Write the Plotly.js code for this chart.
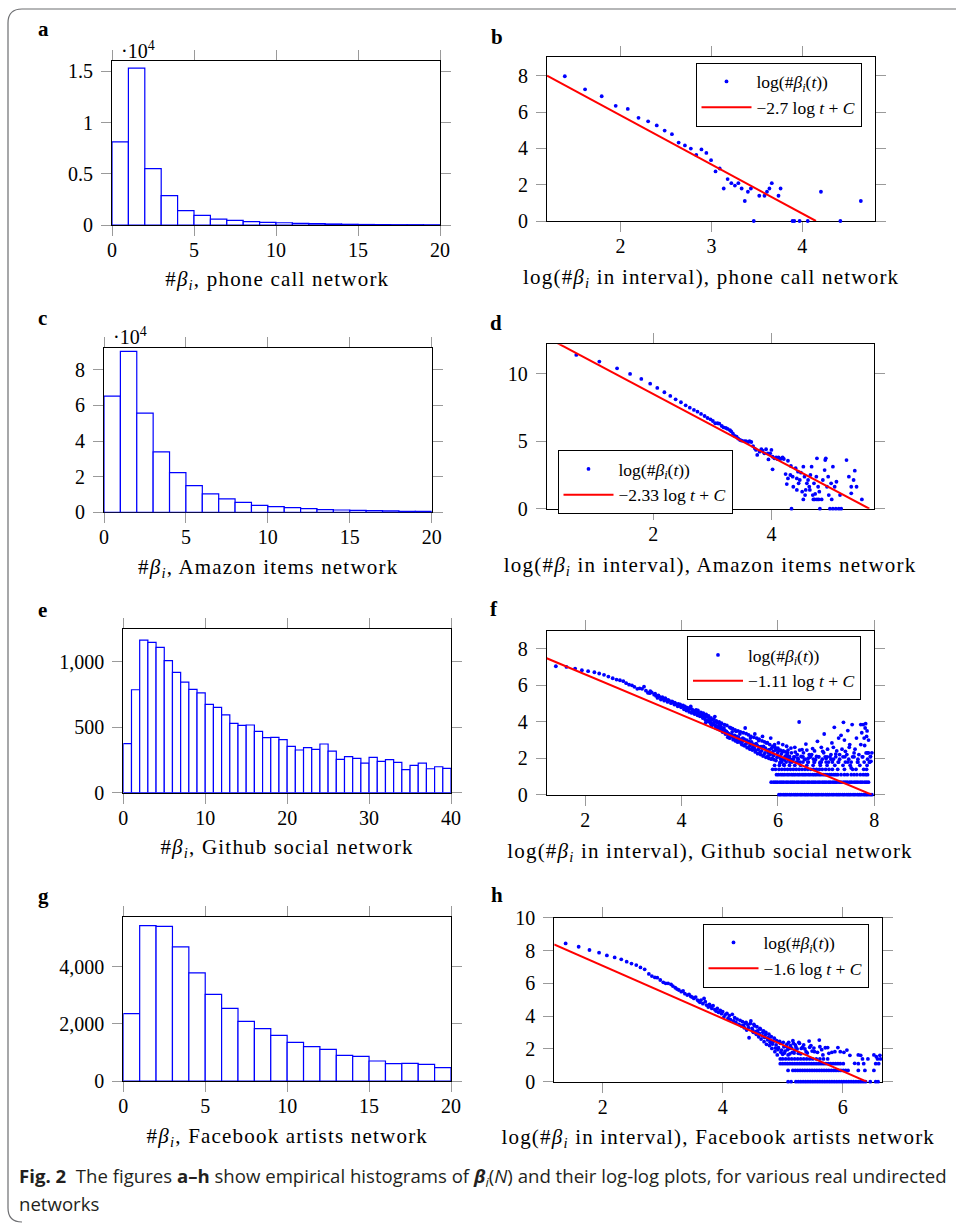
<!DOCTYPE html>
<html><head><meta charset="utf-8">
<script src="https://cdn.plot.ly/plotly-3.0.1.min.js"></script>
<style>html,body{margin:0;padding:0;background:#fff}#chart{width:956px;height:1223px}</style>
</head><body><div id="chart"></div>
<script>
// ---------------- DATA ----------------
const bins20 = [0,1,2,3,4,5,6,7,8,9,10,11,12,13,14,15,16,17,18,19];
const bins40 = [0,1,2,3,4,5,6,7,8,9,10,11,12,13,14,15,16,17,18,19,20,21,22,23,24,25,26,27,28,29,30,31,32,33,34,35,36,37,38,39];

// (a) phone call network, counts in units of 10^4
const phoneCounts = [0.81,1.53,0.55,0.286,0.14,0.094,0.058,0.045,0.032,0.026,0.022,0.016,0.013,0.010,0.007,0.005,0.004,0.003,0.003,0.002];
// (c) Amazon items network, counts in units of 10^4
const amazonCounts = [6.52,9.03,5.56,3.39,2.23,1.50,1.03,0.75,0.56,0.39,0.32,0.26,0.21,0.15,0.13,0.11,0.09,0.075,0.06,0.05];
// (e) Github social network
const githubCounts = [374,786,1165,1148,1109,1008,919,845,789,763,674,651,595,529,514,517,468,420,422,405,354,326,344,331,372,318,254,275,262,226,270,239,252,232,176,209,226,183,198,186];
// (g) Facebook artists network
const facebookCounts = [2356,5434,5411,4688,3778,3032,2542,2087,1831,1598,1353,1201,1108,898,863,700,606,618,583,466];

// (b) log-log, phone call network
const phoneLogT = [1.386,1.609,1.792,1.946,2.079,2.197,2.303,2.398,2.485,2.565,2.639,2.708,2.773,2.833,2.890,2.944,2.996,3.045,3.091,3.135,3.178,3.219,3.258,3.296,3.332,3.367,3.401,3.434,3.466,3.526,3.584,3.611,3.638,3.664,3.738,3.761,3.892,3.912,3.970,4.060,4.205,4.419,4.644];
const phoneLogN = [7.97,7.25,6.87,6.34,6.17,5.68,5.49,5.26,4.98,4.78,4.32,4.16,3.99,3.64,3.94,3.75,3.35,2.73,2.89,1.79,2.31,2.08,1.95,2.08,1.79,1.10,1.61,1.79,0,1.39,1.39,1.61,1.79,2.08,1.39,1.79,0,0,0,0,1.61,0,1.10];
const phoneFitX = [1.19,4.15];
const phoneFitY = [8.0,0.0];

// (d) log-log, Amazon items network
const amazonLogT = [0.70,1.09,1.39,1.61,1.80,1.95,2.07,2.19,2.29,2.38,2.47,2.55,2.62,2.69,2.75,2.81,2.87,2.92,2.97,3.01,3.05,3.09,3.12,3.16,3.19,3.23,3.26,3.30,3.32,3.35,3.38,3.41,3.44,3.47,3.50,3.54,3.57,3.61,3.63,3.66,3.69,3.72,3.74,3.76,3.80,3.83,3.85,3.88,3.91,3.94,3.95,3.98,4.00,4.02,4.05,4.08,4.10,4.12,4.15,4.17,4.19,4.21,4.02,4.28,4.24,4.26,4.28,4.32,4.33,4.34,4.36,4.37,4.41,4.43,4.45,4.46,4.48,4.50,4.52,4.54,4.56,4.57,4.60,4.62,4.64,4.66,4.68,4.70,4.72,4.73,4.76,4.77,4.79,4.81,4.82,4.85,4.87,4.90,4.91,4.92,4.94,4.96,4.97,4.99,5.01,5.04,5.04,5.07,5.09,5.10,5.14,5.16,5.18,5.27,5.31,5.35,5.35,5.39,5.41,5.44,5.53,4.43,4.54,4.71,4.77,4.80,5.02,4.74,4.65,4.58];
const amazonLogN = [11.41,10.92,10.42,10.00,9.63,9.28,8.96,8.64,8.37,8.12,7.90,7.67,7.50,7.33,7.20,7.03,6.88,6.73,6.63,6.51,6.34,6.34,6.31,6.14,6.04,5.99,5.92,5.82,5.74,5.57,5.40,5.35,5.20,5.10,5.05,5.02,5.02,4.95,5.02,4.95,4.65,4.46,4.36,3.99,4.23,4.41,4.31,4.11,4.41,4.11,3.66,4.11,4.36,3.86,3.74,3.81,3.69,3.81,3.69,3.74,3.81,3.69,2.92,3.56,2.57,1.83,2.25,2.50,3.17,0,2.38,1.63,3.00,2.25,2.75,1.88,2.13,2.67,1.26,3.12,2.38,1.01,1.88,2.13,1.63,2.50,3.12,1.01,1.88,0.69,2.38,3.74,1.63,1.26,0,0.69,2.13,2.87,3.61,3.74,1.63,2.38,1.01,0,1.88,3.12,0,1.63,0,2.00,0,1.01,0,3.61,2.38,1.63,1.14,2.13,2.82,1.63,0.69,1.39,0.69,0.69,0.69,0.69,0.69,1.10,1.39,1.39];
const amazonFitX = [0.2,5.656];
const amazonFitY = [12.71,0.0];

// (f) log-log, Github social network
const githubLogT = [1.39,1.61,1.79,1.93,2.06,2.19,2.29,2.39,2.48,2.57,2.65,2.72,2.79,2.85,2.91,2.97,3.02,3.08,3.13,3.18,3.22,3.26,3.30,3.34,3.38,3.43,3.47,3.50,3.54,3.57,3.61,3.64,3.67,3.71,3.74,3.78,3.81,3.85,3.88,3.92,3.95,3.99,4.02,4.05,4.08,4.10,4.13,4.16,4.19,4.21,4.24,4.27,4.30,4.33,4.35,4.38,4.41,4.44,4.46,4.49,4.52,4.55,4.57,4.60,4.63,4.66,4.69,4.71,4.74,4.77,4.80,4.82,4.85,4.88,4.91,4.93,4.96,4.99,5.02,5.04,5.07,5.10,5.13,5.16,5.18,5.21,5.24,5.27,5.29,5.32,5.35,5.38,5.40,5.43,5.46,5.49,5.52,5.54,5.57,5.60,5.63,5.65,5.68,5.71,5.74,5.76,5.79,5.82,5.85,5.88,5.90,5.93,5.96,5.99,6.01,6.04,6.07,6.10,6.12,6.15,6.18,6.22,6.27,6.30,6.36,6.41,6.44,6.50,6.55,6.58,6.65,6.72,6.78,6.82,6.87,6.93,6.96,7.00,7.05,7.12,7.17,7.20,7.26,7.31,7.36,7.40,7.45,7.49,7.52,7.54,7.58,7.63,7.72,7.72,7.77,7.79,7.81,7.83,7.86,7.93,
  4.50,4.58,4.62,4.68,4.75,4.79,4.84,4.90,4.95,5.00,5.05,5.08,5.12,5.15,5.20,5.23,5.26,5.30,5.33,5.37,5.42,5.45,5.48,5.51,5.55,5.59,5.62,5.66,5.70,5.73,5.77,5.80,5.84,5.87,5.91,5.95,5.98,6.02,6.06,6.09,6.14,6.20,6.25,6.33,6.38,6.46,6.52,6.62,6.68,6.75,6.85,6.90,6.98,7.08,7.15,7.25,7.35,7.45,7.55,7.65,7.75,7.82,7.84,7.88,7.90,
  4.31,4.34,4.37,4.40,4.43,4.45,4.48,4.51,4.53,4.56,4.59,4.61,4.64,4.67,4.70,4.72,4.76,4.78,4.81,4.83,4.86,4.89,4.92,4.94,4.97,5.00,5.03,5.06,5.09,5.11,5.14,5.17,5.19,5.22,5.25,5.28,5.31,5.34,5.36,5.39,5.42,5.44,5.47,5.50,5.53,5.56,5.58,5.61,5.64,5.67,5.69,5.72,5.75,5.78,5.81,5.83,5.86,5.89,5.92,5.94,5.97,6.00,6.03,6.05,6.08,6.11,6.13,6.16,6.19,6.21,6.24,6.28,6.32,6.35,6.40,6.45,6.48,6.53,6.60,6.63,6.70,6.76,6.80,6.90,6.95,7.03,7.10,7.15,7.22,7.28,7.33,7.38,7.43,7.48,7.60,7.68,7.74,7.80,7.85,7.88,7.92,7.95,
  3.35,3.45,3.52,3.60,3.66,3.72,3.80,3.86,3.93,3.97,4.03,4.07,4.12,4.17,4.22,4.26,4.29];
const githubLogN = [7.05,7.01,6.92,6.83,6.78,6.72,6.65,6.58,6.48,6.39,6.32,6.28,6.23,6.12,6.04,6.00,5.92,5.81,5.84,5.81,5.93,5.71,5.59,5.57,5.62,5.49,5.42,5.31,5.37,5.22,5.27,5.16,5.24,5.09,5.16,5.02,5.09,4.95,4.98,4.85,4.91,4.80,4.84,4.69,4.76,4.62,4.69,4.54,4.84,4.49,4.58,4.43,4.65,4.36,4.49,4.30,4.43,4.21,4.36,4.12,4.29,4.03,4.18,3.92,4.10,3.85,4.29,3.66,3.94,3.77,3.55,3.74,3.44,3.66,3.33,3.48,3.15,3.33,3.66,3.30,3.02,3.26,3.48,2.89,3.15,3.33,2.82,3.11,2.71,3.66,3.00,2.60,2.93,3.11,2.53,2.78,3.33,2.42,2.71,2.97,2.34,2.64,3.20,2.20,2.56,2.84,2.11,2.47,3.11,2.01,2.38,2.75,1.87,2.29,2.84,1.74,2.23,2.75,1.65,2.11,2.66,1.92,2.56,1.87,2.34,2.01,3.99,2.47,1.92,2.78,2.20,2.53,1.92,2.93,1.74,2.38,3.33,1.98,1.79,2.84,3.70,2.23,3.11,3.26,3.97,2.38,3.52,2.75,1.47,3.85,2.29,3.11,3.85,2.75,3.85,3.11,3.66,2.29,2.29,1.83,
  3.95,4.05,3.78,3.98,3.62,3.90,3.58,3.52,3.40,3.10,3.45,3.15,2.95,3.20,3.05,3.00,2.92,3.05,2.78,2.85,2.70,2.90,2.62,2.55,2.80,2.48,2.62,2.40,2.65,2.30,2.45,2.30,2.20,2.55,2.15,2.45,2.05,2.40,1.95,2.35,1.90,2.30,1.79,2.08,1.79,1.79,2.08,1.79,2.08,1.79,2.08,1.79,2.08,2.08,1.95,1.79,2.08,1.79,2.08,1.79,2.08,3.90,3.20,2.30,1.79,
  4.55,4.62,4.40,4.52,4.33,4.48,4.25,4.40,4.08,4.33,4.00,4.22,3.88,4.15,3.80,4.05,3.70,4.00,3.60,3.92,3.50,3.85,3.38,3.80,3.25,3.70,3.20,3.62,3.05,3.55,2.98,3.50,2.90,3.45,2.75,3.40,2.68,3.35,2.58,3.28,2.50,3.20,2.45,3.15,2.35,3.10,2.25,3.05,2.20,2.95,2.12,2.90,2.05,2.85,2.00,2.75,1.95,2.65,1.92,2.60,2.50,2.55,2.10,2.45,1.80,2.40,1.95,2.35,2.20,2.45,2.10,2.30,1.95,2.60,2.20,2.45,2.10,2.30,2.45,2.00,2.20,2.40,2.10,2.60,2.30,2.50,2.20,2.60,2.40,2.20,2.50,3.00,2.20,2.60,2.50,2.20,3.40,2.70,3.50,3.00,2.10,2.30,
  5.68,5.55,5.45,5.35,5.30,5.20,5.12,5.05,4.98,4.95,4.90,4.85,4.78,4.72,4.68,4.60,4.52];
// rows of repeated small counts (log 1 ... log 8)
const githubRowLevels = [0,0.69,1.10,1.39,1.61,1.79,1.95,2.08];
const githubRowT = [
  [6.02,6.06,6.11,6.15,6.19,6.24,6.28,6.33,6.37,6.41,6.46,6.50,6.55,6.59,6.63,6.68,6.72,6.77,6.81,6.85,6.90,6.94,6.99,7.03,7.07,7.12,7.16,7.21,7.25,7.29,7.34,7.38,7.43,7.47,7.51,7.56,7.60,7.65,7.69,7.73,7.78,7.82,7.86,7.91,7.95],
  [5.86,5.91,5.95,5.99,6.04,6.08,6.12,6.17,6.21,6.26,6.30,6.34,6.39,6.43,6.48,6.52,6.56,6.61,6.65,6.70,6.74,6.78,6.83,6.87,6.92,6.96,7.00,7.05,7.09,7.14,7.18,7.22,7.27,7.31,7.36,7.40,7.44,7.49,7.53,7.58,7.62,7.66,7.71,7.75,7.80,7.84,7.88],
  [5.97,6.01,6.06,6.10,6.14,6.19,6.23,6.28,6.32,6.36,6.41,6.45,6.50,6.54,6.58,6.63,6.67,6.72,6.76,6.80,6.85,6.89,6.94,6.98,7.02,7.07,7.11,7.16,7.20,7.24,7.31,7.38,7.44,7.52,7.58,7.64,7.71,7.77,7.82,7.86],
  [5.89,5.95,6.02,6.08,6.14,6.20,6.26,6.32,6.38,6.44,6.50,6.56,6.62,6.68,6.74,6.80,6.86,6.92,6.99,7.06,7.13,7.24,7.38,7.55,7.62,7.78,7.84],
  [5.93,6.03,6.13,6.24,6.35,6.47,6.60,6.73,6.88,7.02,7.18,7.35,7.50,7.70,7.85],
  [6.05,6.17,6.29,6.40,6.52,6.63,6.76,6.88,7.00,7.13,7.26,7.40,7.52,7.66,7.79,7.90],
  [6.10,6.26,6.42,6.57,6.74,6.92,7.10,7.28,7.47,7.66,7.86],
  [6.02,6.20,6.35,6.50,6.67,6.84,7.02,7.20,7.39,7.58,7.76,7.92]
];
const githubFitX = [1.2,7.945];
const githubFitY = [7.49,0.0];

// (h) log-log, Facebook artists network
const facebookLogT = [1.383,1.60,1.78,1.94,2.07,2.20,2.31,2.40,2.48,2.56,2.63,2.70,2.77,2.82,2.87,2.91,2.96,3.01,3.05,3.09,3.14,3.17,3.21,3.24,3.27,3.31,3.34,3.37,3.41,3.44,3.47,3.49,3.52,3.55,3.58,3.60,3.62,3.64,3.67,3.69,3.71,3.73,3.76,3.78,3.80,3.82,3.84,3.87,3.89,3.91,3.93,3.96,3.98,4.00,4.02,4.04,4.07,4.09,4.11,4.13,4.16,4.18,4.20,4.22,4.24,4.27,4.29,4.31,4.33,4.36,4.38,4.40,4.42,4.44,4.47,4.49,4.51,4.53,4.56,4.58,4.60,4.62,4.64,4.67,4.69,4.71,4.73,4.76,4.78,4.80,4.82,4.84,4.87,4.89,4.91,4.93,4.96,4.98,5.00,5.02,5.04,5.07,5.09,5.11,5.13,5.16,5.18,5.20,5.22,5.26,5.28,5.31,5.35,5.39,5.44,5.47,5.49,5.53,5.61,5.62,5.67,5.71,5.77,5.87,5.96,6.07,6.20,6.26,6.52,6.56,
  4.35,4.39,4.43,4.46,4.50,4.52,4.55,4.57,4.61,4.63,4.66,4.68,4.70,4.72,4.75,4.77,4.79,4.81,4.83,4.86,4.88,4.90,4.92,4.95,4.97,5.01,5.03,5.06,5.08,5.10,5.12,5.15,5.17,5.19,5.21,5.24,5.27,5.30,5.33,5.37,5.41,5.45,5.52,5.58,5.65,5.75,5.82,5.92,6.02,6.12,6.30,6.62];
const facebookLogN = [8.43,8.23,8.03,7.87,7.70,7.58,7.46,7.32,7.20,7.11,6.97,6.85,6.57,6.44,6.36,6.34,6.20,6.06,6.00,6.00,5.93,5.83,5.73,5.65,5.59,5.49,5.53,5.37,5.28,5.33,5.20,5.16,5.08,5.16,4.98,4.92,4.84,4.98,4.76,5.08,4.88,4.67,4.55,4.72,4.59,4.47,4.63,4.39,4.31,4.47,4.23,4.35,4.15,4.27,3.94,4.07,4.17,3.86,4.02,3.78,4.11,3.70,3.90,3.62,3.82,3.50,3.74,3.41,3.66,3.29,3.58,3.15,3.46,2.68,3.70,3.25,3.01,3.41,2.89,3.09,2.74,3.25,2.60,3.01,2.44,2.85,2.28,2.68,2.20,2.54,2.03,2.44,1.83,2.24,1.63,2.07,2.34,1.93,1.67,2.13,1.87,2.28,1.63,2.03,2.20,1.79,2.34,1.93,2.13,1.73,2.34,2.03,2.24,1.83,2.48,2.20,1.87,1.83,2.54,2.13,1.63,2.07,1.73,1.83,1.83,1.93,1.12,1.63,1.63,1.52,
  3.45,3.62,3.30,3.55,3.15,3.50,3.05,3.35,2.95,3.20,2.80,3.10,2.70,3.00,2.55,2.90,2.40,2.75,2.30,2.65,2.05,2.50,1.95,2.45,1.80,2.40,1.75,2.15,1.95,2.40,1.70,2.05,2.50,1.75,2.25,2.00,2.40,1.70,2.10,2.00,1.75,2.10,2.05,1.79,1.95,2.08,1.79,2.08,1.79,1.61,1.61,1.61];
const facebookRowLevels = [0,0.69,1.10,1.39];
const facebookRowT = [
  [5.09,5.14,5.22,5.26,5.30,5.34,5.38,5.42,5.46,5.50,5.54,5.58,5.62,5.66,5.70,5.74,5.78,5.82,5.86,5.90,5.94,5.98,6.02,6.06,6.10,6.14,6.18,6.22,6.26,6.30,6.34,6.38,6.46,6.55,6.59],
  [5.09,5.17,5.21,5.25,5.29,5.33,5.37,5.41,5.45,5.49,5.53,5.57,5.61,5.65,5.69,5.73,5.77,5.81,5.85,5.89,5.93,5.97,6.01,6.05,6.09,6.26,6.37,6.52],
  [4.96,5.00,5.04,5.08,5.12,5.16,5.20,5.24,5.28,5.32,5.36,5.40,5.44,5.48,5.52,5.56,5.60,5.64,5.68,5.72,5.76,5.80,5.84,5.88,5.92,5.96,6.01,6.26,6.35,6.55,6.60],
  [4.96,5.00,5.05,5.10,5.15,5.20,5.25,5.30,5.35,5.40,5.45,5.50,5.56,5.62,5.68,5.75,6.33,6.42,6.58,6.63]
];
const facebookFitX = [1.19,6.4];
const facebookFitY = [8.37,0.0];

const fitLabels = ['−2.7 log <i>t</i> + <i>C</i>','−2.33 log <i>t</i> + <i>C</i>','−1.11 log <i>t</i> + <i>C</i>','−1.6 log <i>t</i> + <i>C</i>'];
const pointLabel = 'log(#<i>β<sub>i</sub></i>(<i>t</i>))';
const histTitles = ['#<i>β<sub>i</sub></i>, phone call network','#<i>β<sub>i</sub></i>, Amazon items network','#<i>β<sub>i</sub></i>, Github social network','#<i>β<sub>i</sub></i>, Facebook artists network'];
const logTitles = ['log(#<i>β<sub>i</sub></i> in interval), phone call network','log(#<i>β<sub>i</sub></i> in interval), Amazon items network','log(#<i>β<sub>i</sub></i> in interval), Github social network','log(#<i>β<sub>i</sub></i> in interval), Facebook artists network'];
const panelLetters = ['a','b','c','d','e','f','g','h'];

// ---------------- LAYOUT HELPERS ----------------
const W = 956, H = 1223;
const fx = p => p / W, fy = p => 1 - p / H;
const SERIF = 'Liberation Serif, Times New Roman, serif';
const BLUE = '#0000ff', RED = '#ff0000';

function rows(levels, ts) {
  const X = [], Y = [];
  ts.forEach((arr, i) => arr.forEach(t => { X.push(t); Y.push(levels[i]); }));
  return [X, Y];
}

const traces = [];
const layout = {
  width: W, height: H, margin: {l:0, r:0, t:0, b:0},
  paper_bgcolor: '#fff', plot_bgcolor: '#fff', showlegend: true,
  annotations: [], shapes: []
};

function axis(box, range, tickvals, ticktext, isX) {
  const dom = isX ? [fx(box[0]), fx(box[1])] : [fy(box[3]), fy(box[2])];
  return {
    domain: dom, range: range,
    tickmode: 'array', tickvals: tickvals, ticktext: ticktext,
    ticks: 'outside', ticklen: 10, tickwidth: 1, tickcolor: '#9a9a9a',
    showline: true, linecolor: '#000', linewidth: 1, mirror: 'ticks',
    showgrid: false, zeroline: false, layer: 'below traces',
    ticklabelstandoff: isX ? -3 : 4,
    tickfont: {family: SERIF, size: 20, color: '#000'}, fixedrange: true
  };
}

function addAxes(n, box, xr, xt, xtt, yr, yt, ytt) {
  const s = n === 1 ? '' : String(n);
  layout['xaxis' + s] = axis(box, xr, xt, xtt || xt.map(String), true);
  layout['yaxis' + s] = axis(box, yr, yt, ytt || yt.map(String), false);
  layout['xaxis' + s].anchor = 'y' + s;
  layout['yaxis' + s].anchor = 'x' + s;
}

function addHist(n, bins, counts) {
  const s = n === 1 ? '' : String(n);
  traces.push({type:'bar', x: bins, y: counts, offset: 0, width: 1,
    marker: {color: '#fff', line: {color: BLUE, width: 1.2}},
    xaxis: 'x' + s, yaxis: 'y' + s, showlegend: false, hoverinfo: 'skip'});
}

function addLogLog(n, xs, ys, fitX, fitY, fitLabel, legendId, legendPos) {
  const s = String(n);
  traces.push({type:'scatter', mode:'markers', x: xs, y: ys, name: pointLabel,
    marker: {color: BLUE, size: 3.8}, cliponaxis: false,
    xaxis: 'x' + s, yaxis: 'y' + s, legend: legendId});
  traces.push({type:'scatter', mode:'lines', x: fitX, y: fitY, name: fitLabel,
    line: {color: RED, width: 2},
    xaxis: 'x' + s, yaxis: 'y' + s, legend: legendId});
  layout[legendId] = {x: fx(legendPos[0]), y: fy(legendPos[1]), xanchor: 'left', yanchor: 'top',
    bgcolor: '#fff', bordercolor: '#000', borderwidth: 1, tracegroupgap: 0, itemwidth: 50,
    font: {family: SERIF, size: 17.5, color: '#000'}, itemclick: false, itemdoubleclick: false};
}

// panel boxes (page pixels): [left, right, top, bottom]
const B = {
  a:[112,440,61,225], b:[547,875,57,221],
  c:[104,431.7,348.3,512.3], d:[546.7,874.3,344.3,508.7],
  e:[123.3,451,629,792.7], f:[546.7,874.3,630.7,794.7],
  g:[123.3,451,917.3,1081], h:[554.3,882.3,917.7,1081.7]
};

addAxes(1, B.a, [0,20], [0,5,10,15,20], null, [0,1.6], [0,0.5,1,1.5], ['0','0.5','1','1.5']);
addHist(1, bins20, phoneCounts);
addAxes(2, B.b, [1.19,4.8], [2,3,4], null, [0,9.03], [0,2,4,6,8], null);
addLogLog(2, phoneLogT, phoneLogN, phoneFitX, phoneFitY, fitLabels[0], 'legend', [695.5,62.5]);
addAxes(3, B.c, [0,20], [0,5,10,15,20], null, [0,9.2], [0,2,4,6,8], null);
addHist(3, bins20, amazonCounts);
addAxes(4, B.d, [0.2,5.74], [2,4], null, [0,12.2], [0,5,10], null);
addLogLog(4, amazonLogT, amazonLogN, amazonFitX, amazonFitY, fitLabels[1], 'legend2', [557.5,450]);
addAxes(5, B.e, [0,40], [0,10,20,30,40], null, [0,1250], [0,500,1000], ['0','500','1,000']);
addHist(5, bins40, githubCounts);
const gr = rows(githubRowLevels, githubRowT);
addAxes(6, B.f, [1.2,8.0], [2,4,6,8], null, [0,9.0], [0,2,4,6,8], null);
addLogLog(6, githubLogT.concat(gr[0]), githubLogN.concat(gr[1]), githubFitX, githubFitY, fitLabels[2], 'legend3', [687,636]);
addAxes(7, B.g, [0,20], [0,5,10,15,20], null, [0,5725], [0,2000,4000], ['0','2,000','4,000']);
addHist(7, bins20, facebookCounts);
const fr = rows(facebookRowLevels, facebookRowT);
addAxes(8, B.h, [1.194,6.66], [2,4,6], null, [0,10], [0,2,4,6,8,10], null);
addLogLog(8, facebookLogT.concat(fr[0]), facebookLogN.concat(fr[1]), facebookFitX, facebookFitY, fitLabels[3], 'legend4', [702.5,923.5]);

// axis titles (first 8 annotations)
const titlePos = [[277,280],[711,278],[268,568],[710,566],[287,848],[710,852],[287,1137],[718,1138]];
const titles = [histTitles[0],logTitles[0],histTitles[1],logTitles[1],histTitles[2],logTitles[2],histTitles[3],logTitles[3]];
titles.forEach((t,i) => layout.annotations.push({text: t, xref:'paper', yref:'paper',
  x: fx(titlePos[i][0]), y: fy(titlePos[i][1]), xanchor:'center', yanchor:'middle', showarrow:false,
  font:{family: SERIF, size: 21, color:'#000'}}));

const letterPos = [[43,29],[497,37],[42,318],[496,323],[42,610],[494,609],[43,896],[497,895]];
panelLetters.forEach((l,i) => layout.annotations.push({text:'<b>'+l+'</b>', xref:'paper', yref:'paper',
  x: fx(letterPos[i][0]), y: fy(letterPos[i][1]), xanchor:'center', yanchor:'middle', showarrow:false,
  font:{family: SERIF, size: 21, color:'#000'}}));

[[119,50],[111,336]].forEach(p => layout.annotations.push({text:'·10<sup>4</sup>', xref:'paper', yref:'paper',
  x: fx(p[0]), y: fy(p[1]), xanchor:'left', yanchor:'middle', showarrow:false,
  font:{family: SERIF, size: 20, color:'#000'}}));

const SANS = 'Open Sans, Noto Sans, sans-serif';
layout.annotations.push({text:'<b>Fig. 2</b>  The figures <b>a–h</b> show empirical histograms of <b><i>β</i></b><sub><i>i</i></sub>(<i>N</i>) and their log-log plots, for various real undirected',
  xref:'paper', yref:'paper', x: fx(17), y: fy(1177), xanchor:'left', yanchor:'middle', showarrow:false,
  font:{family: SANS, size: 18.6, color:'#231f20'}});
layout.annotations.push({text:'networks', xref:'paper', yref:'paper', x: fx(17), y: fy(1203),
  xanchor:'left', yanchor:'middle', showarrow:false, font:{family: SANS, size: 18.6, color:'#231f20'}});

const path = 'M ' + fx(960) + ' ' + fy(9) + ' L ' + fx(22) + ' ' + fy(9) + ' Q ' + fx(8) + ' ' + fy(9) + ' ' + fx(8) + ' ' + fy(23) +
  ' L ' + fx(8) + ' ' + fy(1208) + ' Q ' + fx(8) + ' ' + fy(1222) + ' ' + fx(22) + ' ' + fy(1222);
layout.shapes.push({type:'path', xref:'paper', yref:'paper', path: path, line:{color:'#6d6e71', width:1.2}});

Plotly.newPlot('chart', traces, layout, {staticPlot: true, displayModeBar: false}).then(() => {
  // Computer-Modern-like wider setting for the axis titles
  document.querySelectorAll('g.annotation').forEach(g => {
    const idx = +g.getAttribute('data-index');
    if (idx < 8) g.querySelectorAll('text.annotation-text').forEach(t => t.style.letterSpacing = '1.2px');
  });
});
</script>
</body></html>
